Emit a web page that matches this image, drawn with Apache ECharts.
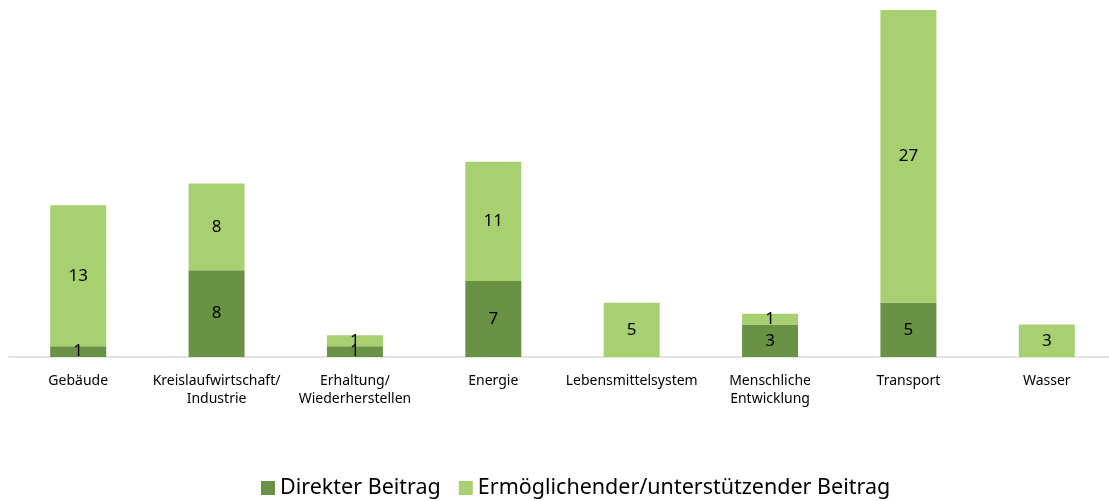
<!DOCTYPE html>
<html>
<head>
<meta charset="utf-8">
<script src="https://cdn.jsdelivr.net/npm/echarts@6/dist/echarts.min.js"></script>
<style>
  html, body { margin: 0; padding: 0; background: #fff; }
  #chart { width: 1109px; height: 501px; }
</style>
</head>
<body>
<div id="chart"></div>
<script>
var categories = ['Gebäude', 'Kreislaufwirtschaft/\nIndustrie', 'Erhaltung/\nWiederherstellen', 'Energie',
    'Lebensmittelsystem', 'Menschliche\nEntwicklung', 'Transport', 'Wasser'];
var direkt = [1, 8, 1, 7, 0, 3, 5, 0];
var ermoeglichend = [13, 8, 1, 11, 5, 1, 27, 3];
var seriesNames = ['Direkter Beitrag', 'Ermöglichender/unterstützender Beitrag'];

var chart = echarts.init(document.getElementById('chart'));
var fontFam = 'Noto Sans, sans-serif';

function labelFmt(p) {
    return p.value ? String(p.value) : '';
}

var option = {
    animation: false,
    textStyle: { fontFamily: fontFam },
    grid: { left: 9, width: 1107, top: 10, bottom: 144, outerBoundsMode: 'none' },
    legend: {
        top: 472,
        left: 256,
        itemWidth: 14,
        itemHeight: 14,
        itemGap: 18,
        icon: 'rect',
        data: seriesNames,
        textStyle: { fontSize: 21.5, color: '#000', fontFamily: fontFam }
    },
    xAxis: {
        type: 'category',
        data: categories,
        axisLine: { lineStyle: { color: '#d9d9d9', width: 1.5 } },
        axisTick: { show: false },
        axisLabel: { color: '#000', fontSize: 14, lineHeight: 18, margin: 15, interval: 0 }
    },
    yAxis: {
        type: 'value',
        min: 0,
        max: 32,
        show: false,
        splitLine: { show: false }
    },
    series: [
        {
            name: seriesNames[0],
            type: 'bar',
            stack: 'total',
            barWidth: 56,
            data: direkt,
            itemStyle: { color: '#6a9245' },
            label: { show: true, position: 'inside', color: '#000', fontSize: 17, formatter: labelFmt }
        },
        {
            name: seriesNames[1],
            type: 'bar',
            stack: 'total',
            barWidth: 56,
            data: ermoeglichend,
            itemStyle: { color: '#a8cf70' },
            label: { show: true, position: 'inside', color: '#000', fontSize: 17, formatter: labelFmt }
        }
    ]
};
chart.setOption(option);
</script>
</body>
</html>
